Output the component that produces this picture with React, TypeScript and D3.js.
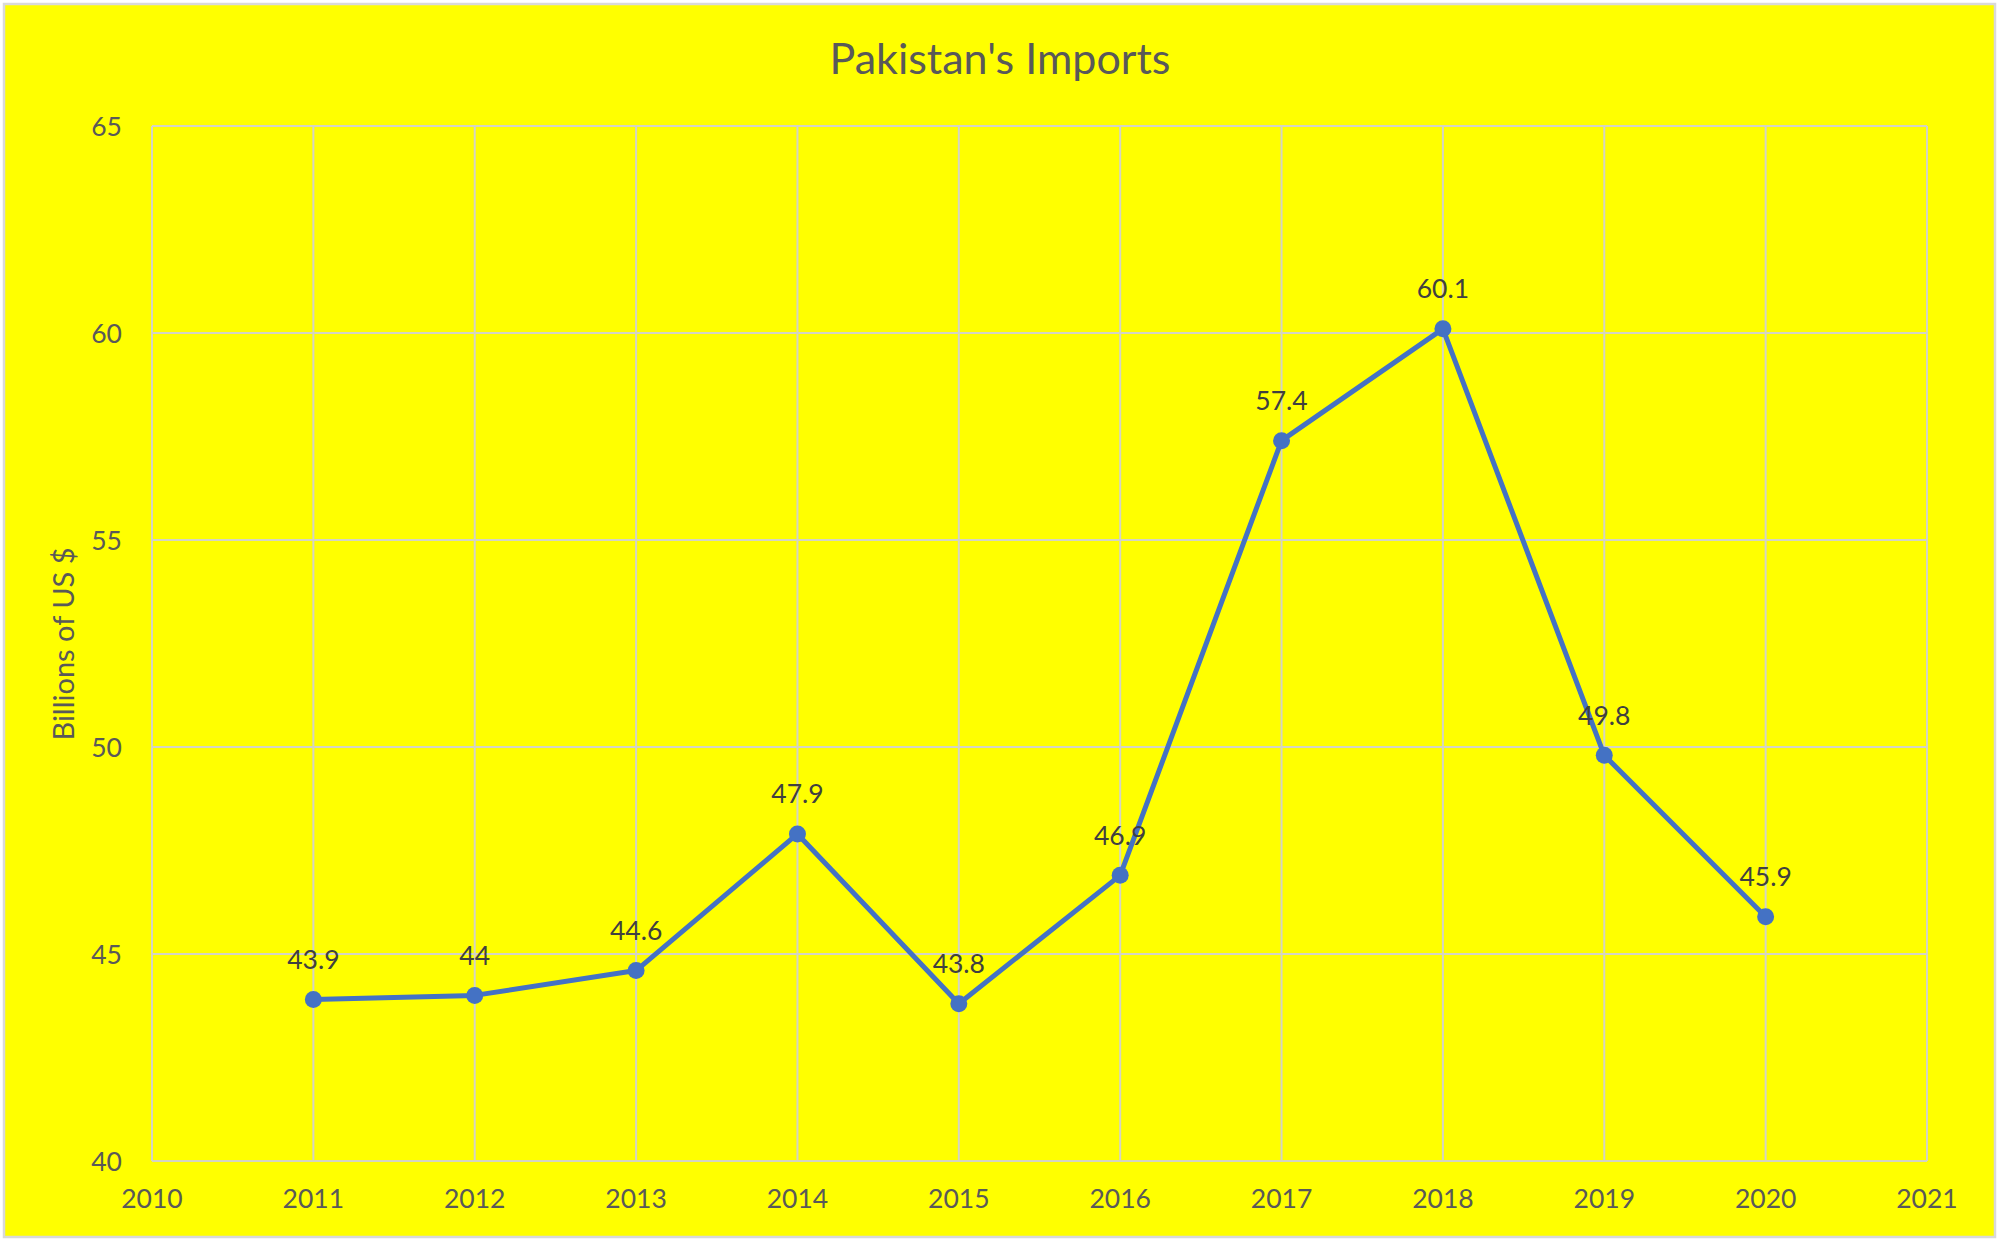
import React, { useEffect, useRef } from "react";
import * as d3 from "d3";

const years = [2011, 2012, 2013, 2014, 2015, 2016, 2017, 2018, 2019, 2020];
const imports = [43.9, 44, 44.6, 47.9, 43.8, 46.9, 57.4, 60.1, 49.8, 45.9];
const xTicks = [2010, 2011, 2012, 2013, 2014, 2015, 2016, 2017, 2018, 2019, 2020, 2021];
const yTicks = [40, 45, 50, 55, 60, 65];
const title = "Pakistan's Imports";
const yTitle = "Billions of US $";

const W = 2000;
const H = 1242;
const FONT = "Lato, 'Open Sans', sans-serif";

export default function App() {
  const ref = useRef<SVGSVGElement | null>(null);

  useEffect(() => {
    const svg = d3.select(ref.current);
    svg.selectAll("*").remove();

    const left = 152, right = 1927, top = 126, bottom = 1161;
    const x = d3.scaleLinear().domain([2010, 2021]).range([left, right]);
    const y = d3.scaleLinear().domain([40, 65]).range([bottom, top]);

    svg.append("rect").attr("x", 0).attr("y", 0).attr("width", W).attr("height", H).attr("fill", "#ffffff");
    svg.append("rect").attr("x", 4).attr("y", 4).attr("width", 1991).attr("height", 1233)
      .attr("fill", "#ffff00").attr("stroke", "#d9d9d9").attr("stroke-width", 2.5);

    const grid = svg.append("g");
    grid.selectAll("line.h").data(yTicks).join("line")
      .attr("x1", left).attr("x2", right)
      .attr("y1", (d) => y(d)).attr("y2", (d) => y(d))
      .attr("stroke", "#d4d4c4").attr("stroke-width", 2);
    grid.selectAll("line.v").data(xTicks).join("line")
      .attr("y1", top).attr("y2", bottom)
      .attr("x1", (d) => x(d)).attr("x2", (d) => x(d))
      .attr("stroke", "#d4d4c4").attr("stroke-width", 2);

    svg.append("g").selectAll("text").data(yTicks).join("text")
      .attr("x", 122).attr("y", (d) => y(d)).attr("dy", "0.36em")
      .attr("text-anchor", "end").attr("font-family", FONT).attr("font-size", 26.5)
      .attr("fill", "#595959").text((d) => String(d));

    svg.append("g").selectAll("text").data(xTicks).join("text")
      .attr("x", (d) => x(d)).attr("y", 1208)
      .attr("text-anchor", "middle").attr("font-family", FONT).attr("font-size", 26.5)
      .attr("fill", "#595959").text((d) => String(d));

    svg.append("text").attr("x", 1000).attr("y", 59).attr("dy", "0.36em")
      .attr("text-anchor", "middle").attr("font-family", FONT).attr("font-size", 43)
      .attr("fill", "#595959").text(title);

    svg.append("text").attr("transform", `translate(64,644) rotate(-90)`).attr("dy", "0.36em")
      .attr("text-anchor", "middle").attr("font-family", FONT).attr("font-size", 29)
      .attr("fill", "#595959").text(yTitle);

    const data = years.map((yr, i) => ({ yr, v: imports[i] }));
    const line = d3.line<{ yr: number; v: number }>().x((d) => x(d.yr)).y((d) => y(d.v));
    svg.append("path").datum(data).attr("d", line).attr("fill", "none")
      .attr("stroke", "#4472c4").attr("stroke-width", 5).attr("stroke-linejoin", "round");

    svg.append("g").selectAll("circle").data(data).join("circle")
      .attr("cx", (d) => x(d.yr)).attr("cy", (d) => y(d.v)).attr("r", 8.5)
      .attr("fill", "#4472c4");

    svg.append("g").selectAll("text").data(data).join("text")
      .attr("x", (d) => x(d.yr)).attr("y", (d) => y(d.v) - 40).attr("dy", "0.36em")
      .attr("text-anchor", "middle").attr("font-family", FONT).attr("font-size", 26.5)
      .attr("fill", "#404040").text((d) => String(d.v));
  }, []);

  return (
    <svg ref={ref} width={W} height={H} style={{ position: "absolute", left: 0, top: 0 }} />
  );
}
